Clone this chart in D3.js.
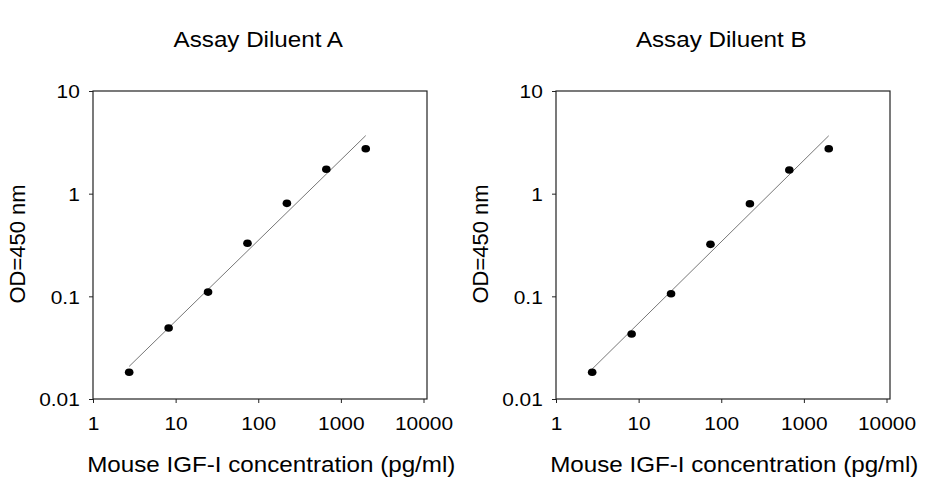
<!DOCTYPE html>
<html>
<head>
<meta charset="utf-8">
<script src="https://cdn.jsdelivr.net/npm/d3@7"></script>
<style>
  body { margin: 0; background: #fff; }
  svg { display: block; }
  text { font-family: "Liberation Sans", Arial, sans-serif; fill: #000; }
</style>
</head>
<body>
<div id="chart"></div>
<script>
// standard curve, 3-fold dilutions
var conc = [2.74, 8.23, 24.69, 74.07, 222.2, 666.7, 2000];
var odA = [0.0182, 0.0492, 0.110, 0.329, 0.805, 1.73, 2.74];
var odB = [0.0182, 0.0430, 0.106, 0.321, 0.798, 1.70, 2.74];
var titles = ["Assay Diluent A", "Assay Diluent B"];
var xTicks = [1, 10, 100, 1000, 10000];
var yTicks = [0.01, 0.1, 1, 10];
var xLabel = "Mouse IGF-I concentration (pg/ml)";
var yLabel = "OD=450 nm";

var width = 926, height = 480;
var svg = d3.select("#chart").append("svg")
    .attr("width", width)
    .attr("height", height);

var plotTop = 91, plotBottom = 399;
var stretch = "scale(1.1,1)";

function panel(left, title, od){
    var right = left + 330.5;
    var x = d3.scaleLog().domain([1, 10000]).range([left, right]);
    var y = d3.scaleLog().domain([0.01, 10]).range([plotBottom, plotTop]);
    var g = svg.append("g");

    // frame
    g.append("rect")
        .attr("x", left)
        .attr("y", plotTop)
        .attr("width", right + 3.5 - left)
        .attr("height", plotBottom - plotTop)
        .attr("fill", "none")
        .attr("stroke", "#222")
        .attr("stroke-width", 1.2);

    var xa = g.append("g")
        .attr("transform", "translate(0," + plotBottom + ")")
        .call(d3.axisBottom(x).tickValues(xTicks).tickFormat(d3.format("")).tickSize(4).tickSizeOuter(0).tickPadding(14));
    xa.select(".domain").remove();
    xa.selectAll("line").attr("stroke", "#222");
    xa.selectAll("text").style("font-size", "19px").attr("transform", stretch);

    var ya = g.append("g")
        .attr("transform", "translate(" + left + ",0)")
        .call(d3.axisLeft(y).tickValues(yTicks).tickFormat(d3.format("")).tickSize(4).tickSizeOuter(0).tickPadding(8));
    ya.select(".domain").remove();
    ya.selectAll("line").attr("stroke", "#222");
    ya.selectAll("text").style("font-size", "19px").attr("dy", "0.36em").attr("transform", stretch);

    // least squares fit in log-log space
    var lx = conc.map(function(d){ return Math.log10(d); });
    var ly = od.map(function(d){ return Math.log10(d); });
    var mx = d3.mean(lx), my = d3.mean(ly);
    var sxy = 0, sxx = 0;
    for(var i=0;i<lx.length;i++){
        sxy += (lx[i]-mx)*(ly[i]-my);
        sxx += (lx[i]-mx)*(lx[i]-mx);
    }
    var slope = sxy/sxx, icpt = my - slope*mx;
    var ends = d3.extent(conc);
    g.append("path")
        .datum(ends)
        .attr("d", d3.line()
            .x(function(d){ return x(d); })
            .y(function(d){ return y(Math.pow(10, icpt + slope*Math.log10(d))); }))
        .attr("fill", "none")
        .attr("stroke", "#777")
        .attr("stroke-width", 1);

    g.selectAll("ellipse")
        .data(conc)
        .enter()
        .append("ellipse")
        .attr("cx", function(d){ return x(d); })
        .attr("cy", function(d,i){ return y(od[i]); })
        .attr("rx", 4.3)
        .attr("ry", 3.8)
        .attr("fill", "#000");

    var mid = (left + right)/2;
    g.append("text")
        .attr("transform", "translate(" + mid + ",47) " + stretch)
        .attr("text-anchor", "middle")
        .style("font-size", "22px")
        .text(title);

    g.append("text")
        .attr("transform", "translate(" + (mid + 13) + ",472) " + stretch)
        .attr("text-anchor", "middle")
        .style("font-size", "22px")
        .text(xLabel);

    g.append("text")
        .attr("transform", "translate(" + (left - 68) + ",244) rotate(-90)")
        .attr("text-anchor", "middle")
        .style("font-size", "22px")
        .text(yLabel);
}

panel(93, titles[0], odA);
panel(556, titles[1], odB);
</script>
</body>
</html>
